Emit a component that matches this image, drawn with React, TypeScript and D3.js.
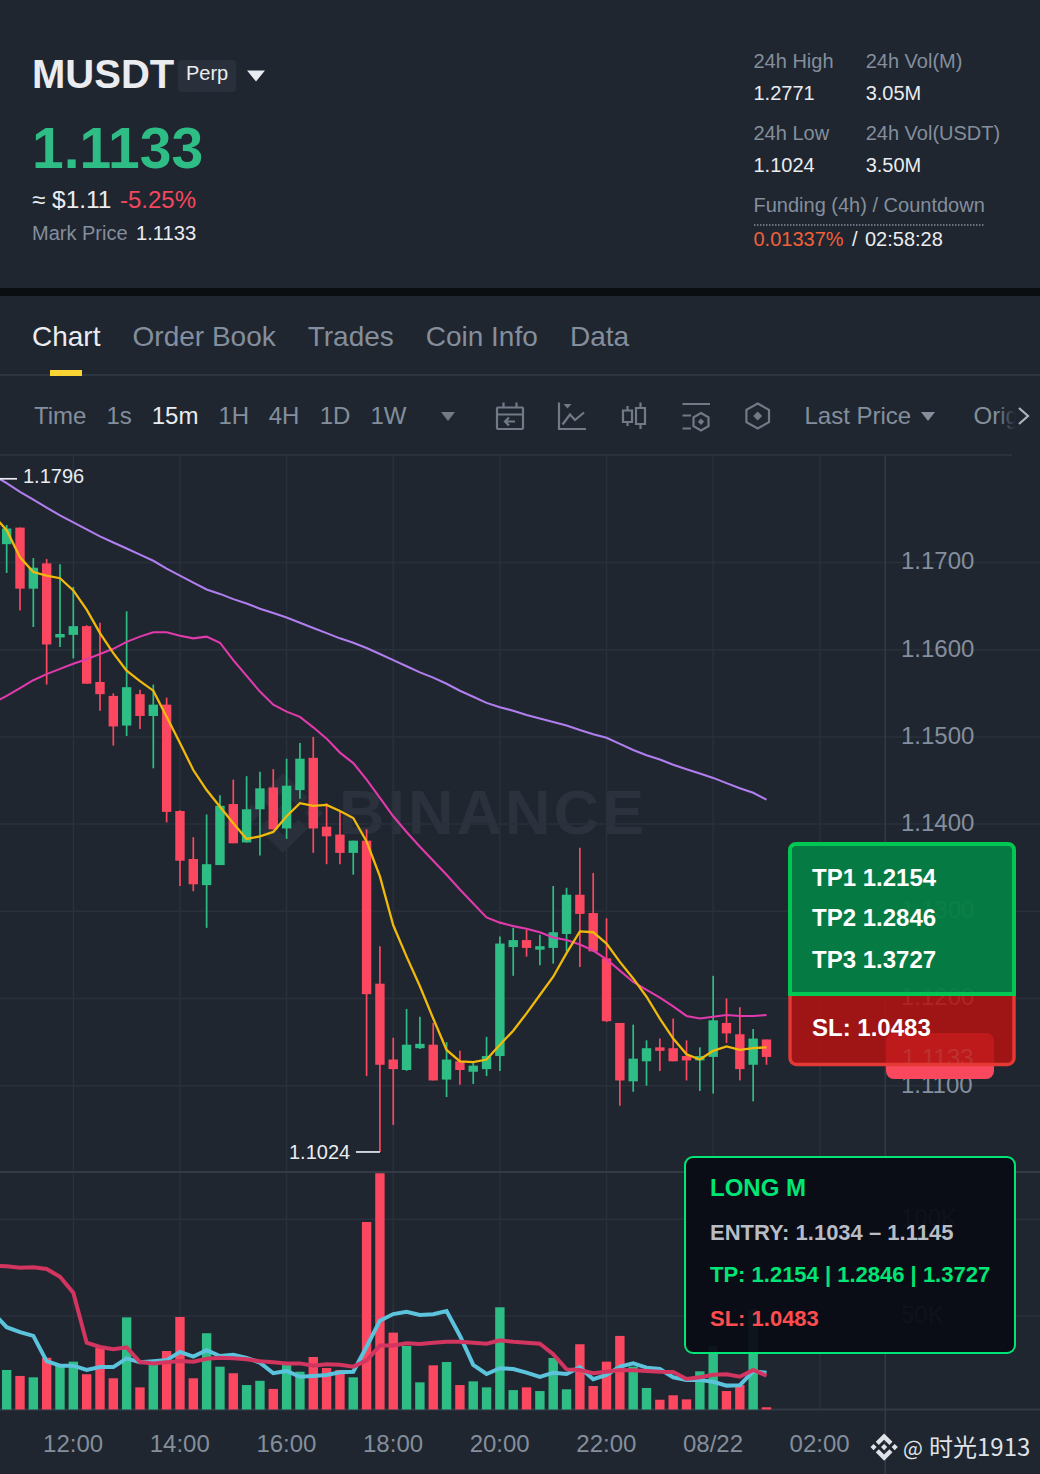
import * as d3 from "d3";
import { useEffect, useRef } from "react";

const opens = [1.1721,1.174,1.167,1.1699,1.1614,1.1617,1.1627,1.1563,1.1547,1.1513,1.1549,1.1524,1.1537,1.1415,1.136,1.133,1.1353,1.1423,1.1379,1.1417,1.1442,1.1395,1.1439,1.1476,1.1397,1.1388,1.1367,1.1381,1.1217,1.113,1.1118,1.1143,1.1147,1.1107,1.1128,1.1116,1.1119,1.1134,1.1259,1.1267,1.1256,1.1258,1.1274,1.1319,1.1298,1.1246,1.1172,1.1105,1.1128,1.1144,1.1143,1.1134,1.1129,1.1133,1.1172,1.1159,1.1124,1.1153];
const closes = [1.1739,1.167,1.1694,1.1606,1.1618,1.1627,1.1561,1.1549,1.1512,1.1557,1.1524,1.1537,1.1414,1.1358,1.1331,1.1354,1.1421,1.1378,1.1417,1.1441,1.1394,1.1444,1.1475,1.1395,1.1386,1.1367,1.1381,1.1205,1.1124,1.1119,1.1147,1.1148,1.1106,1.113,1.1118,1.1123,1.1134,1.1263,1.1267,1.1258,1.126,1.1276,1.1319,1.1297,1.1254,1.1174,1.1106,1.1131,1.1143,1.114,1.1128,1.1129,1.1134,1.1175,1.116,1.1119,1.1154,1.1133];
const highs = [1.1743,1.174,1.1705,1.1704,1.1698,1.1672,1.1628,1.1631,1.155,1.1644,1.1554,1.156,1.1545,1.1416,1.1385,1.1411,1.1433,1.1451,1.1455,1.146,1.1463,1.1475,1.1493,1.15,1.1424,1.1414,1.1381,1.1394,1.126,1.1155,1.1188,1.1179,1.1172,1.115,1.114,1.1126,1.1156,1.1271,1.1281,1.1279,1.1273,1.1329,1.1327,1.1373,1.1344,1.1292,1.1172,1.117,1.1152,1.1154,1.1177,1.1152,1.1144,1.1226,1.12,1.119,1.1165,1.1153];
const lows = [1.1688,1.1645,1.1626,1.156,1.1603,1.159,1.1561,1.153,1.149,1.1501,1.1509,1.1464,1.1402,1.1329,1.1323,1.1281,1.1353,1.1378,1.1379,1.1364,1.1394,1.1383,1.1429,1.1367,1.1354,1.1354,1.1342,1.1111,1.1024,1.1055,1.1117,1.1142,1.1106,1.1087,1.1101,1.1102,1.1111,1.1117,1.1226,1.1248,1.1238,1.124,1.1254,1.1236,1.1254,1.1173,1.1077,1.1093,1.11,1.1117,1.1128,1.1106,1.1094,1.1091,1.1149,1.1106,1.1082,1.1124];
const volumes = [22100,19000,18300,28400,25000,26400,19900,33600,17800,49300,13100,25500,31900,49500,17800,41100,23800,20400,14300,16500,12300,24700,21200,28800,23100,22100,18300,98600,123800,41400,34500,15700,24500,26200,14300,16200,13100,54500,11700,13100,11200,28300,12100,35400,13800,26400,39700,23800,12800,6700,9000,6900,21400,34600,11200,14300,53500,2800];

// moving averages start one candle before the first visible one
const ma7 = [1.1754,1.1737,1.1706,1.1689,1.1685,1.1682,1.1668,1.1646,1.1619,1.1596,1.1576,1.1564,1.1553,1.1523,1.1493,1.1462,1.1439,1.142,1.1401,1.1383,1.1386,1.1391,1.1409,1.1424,1.1421,1.1422,1.1415,1.1407,1.138,1.134,1.1284,1.1248,1.1214,1.1177,1.1141,1.1128,1.1127,1.113,1.1147,1.1163,1.1183,1.1204,1.1225,1.1252,1.1277,1.1276,1.1263,1.1242,1.1223,1.1202,1.1177,1.1154,1.1136,1.113,1.114,1.1145,1.1141,1.1143,1.1144];
const ma25 = [1.1539,1.1547,1.1556,1.1565,1.1572,1.1578,1.1584,1.1589,1.1595,1.1601,1.1609,1.1615,1.162,1.162,1.1616,1.1613,1.1615,1.1608,1.1588,1.157,1.1552,1.1537,1.1529,1.1523,1.1511,1.1498,1.1482,1.147,1.1451,1.143,1.1409,1.1391,1.1374,1.1358,1.1342,1.1325,1.1309,1.1293,1.1287,1.1283,1.128,1.1276,1.127,1.1267,1.1262,1.1255,1.1245,1.1232,1.1219,1.121,1.1201,1.1191,1.118,1.1177,1.1179,1.1181,1.118,1.118,1.1181];
const ma99 = [1.18,1.1791,1.1781,1.1772,1.1763,1.1754,1.1746,1.1738,1.173,1.1723,1.1716,1.1709,1.1702,1.1693,1.1685,1.1677,1.1669,1.1664,1.1658,1.1653,1.1647,1.1642,1.1637,1.1631,1.1625,1.1619,1.1613,1.1608,1.1602,1.1595,1.1588,1.1581,1.1574,1.1568,1.1561,1.1553,1.1546,1.1539,1.1534,1.153,1.1525,1.1521,1.1517,1.1513,1.1508,1.1503,1.1499,1.1492,1.1485,1.1479,1.1474,1.1468,1.1463,1.1458,1.1453,1.1447,1.1441,1.1436,1.1428];
const volMa5 = [51500,44200,41700,39700,26700,24300,24300,22100,23600,23600,28100,26100,26600,27200,31400,29000,32300,29300,30000,28300,25900,20400,21600,18600,19000,19500,20900,21200,34100,47600,51000,52200,50500,50900,52600,39800,24700,20000,23000,22600,20700,18500,20700,20000,23500,17300,19500,23800,25500,23300,22600,18300,16900,16900,16000,14000,14200,21400,20700];
const volMa10 = [76100,75700,75000,75200,74300,70300,62000,36200,34000,32800,33800,26200,25500,26100,26700,26400,27900,28400,28100,27600,26600,26100,25500,25500,24300,25000,24800,23800,26900,34800,34800,35900,35500,36200,36700,36700,36200,35700,37400,36700,36200,35700,30300,22400,22100,20400,21200,22100,21900,21600,21200,21000,17400,18300,19600,19900,18600,22100,19100];

const priceTicks = [1.17, 1.16, 1.15, 1.14, 1.13, 1.12, 1.11];
const volumeTicks = [100000, 50000];
const timeTickIndex = [5, 13, 21, 29, 37, 45, 53, 61];
const timeTickLabels = ["12:00", "14:00", "16:00", "18:00", "20:00", "22:00", "08/22", "02:00"];
const intervals = ["Time", "1s", "15m", "1H", "4H", "1D", "1W"];
const intervalX = [34, 106.5, 151.7, 218.5, 268.7, 319.7, 370.5];
const tabs = ["Chart", "Order Book", "Trades", "Coin Info", "Data"];
const tabX = [32, 132.6, 307.7, 425.7, 570];
const visibleHigh = 1.1796;

const BG = "#1f2630";
const GREEN = "#2ebd85";
const RED = "#fb4760";
const GRAY = "#848e9c";
const LIGHT = "#eaecef";
const GRID = "#2a303b";
const ICON = "#727a88";
const SANS = "'Liberation Sans', Arial, sans-serif";
const LOGO =
  "M38.73 53.2l24.59-24.58 24.6 24.6 14.3-14.31L63.32 0 24.43 38.9zM0 63.31l14.3-14.31 14.31 14.31-14.31 14.3zM38.73 73.41l24.59 24.59 24.6-24.6 14.31 14.29-38.9 38.91-38.91-38.88v-.03zM98.28 63.31l14.3-14.3 14.31 14.3-14.31 14.3zM77.83 63.3L63.32 48.78 52.59 59.51l-1.24 1.23-2.54 2.54 14.51 14.5 14.51-14.47z";

export default function App() {
  const svgRef = useRef<SVGSVGElement>(null);

  useEffect(() => {
    if (!svgRef.current) return;
    const svg = d3.select(svgRef.current);
    svg.selectAll("*").remove();
    svg.style("font-family", SANS);

    const text = (
      parent: any,
      x: number,
      y: number,
      s: string,
      size: number,
      fill: string,
      weight = "normal",
    ) =>
      parent
        .append("text")
        .attr("x", x)
        .attr("y", y)
        .attr("font-size", size)
        .attr("font-weight", weight)
        .attr("fill", fill)
        .text(s);

    svg.append("rect").attr("width", 1040).attr("height", 1474).attr("fill", BG);

    // Header
    text(svg, 32, 88, "MUSDT", 40, LIGHT, "bold");
    svg.append("rect").attr("x", 178).attr("y", 60).attr("width", 58).attr("height", 32).attr("rx", 4).attr("fill", "#2a303b");
    text(svg, 186, 80, "Perp", 20, LIGHT);
    svg.append("path").attr("d", "M247 70.5h18l-9 11z").attr("fill", LIGHT);
    text(svg, 32, 168, "1.1133", 57, GREEN, "bold");
    text(svg, 32, 208, "≈", 24, LIGHT);
    text(svg, 52, 208, "$1.11", 24.5, LIGHT);
    text(svg, 120, 208, "-5.25%", 24, "#f6465d");
    text(svg, 32, 240, "Mark Price", 20, GRAY);
    text(svg, 136, 240, "1.1133", 20.2, LIGHT);

    text(svg, 753.5, 68, "24h High", 20, GRAY);
    text(svg, 865.7, 68, "24h Vol(M)", 20, GRAY);
    text(svg, 753.5, 100, "1.2771", 20, LIGHT);
    text(svg, 865.7, 100, "3.05M", 20, LIGHT);
    text(svg, 753.5, 140, "24h Low", 20, GRAY);
    text(svg, 865.7, 140, "24h Vol(USDT)", 20, GRAY);
    text(svg, 753.5, 172, "1.1024", 20, LIGHT);
    text(svg, 865.7, 172, "3.50M", 20, LIGHT);
    text(svg, 753.5, 212, "Funding (4h) / Countdown", 20, GRAY);
    svg.append("line").attr("x1", 754).attr("x2", 985).attr("y1", 225).attr("y2", 225)
      .attr("stroke", GRAY).attr("stroke-width", 1.5).attr("stroke-dasharray", "1.5,1.5");
    text(svg, 753.5, 246, "0.01337%", 20, "#f0603a");
    text(svg, 852, 246, "/", 20, LIGHT);
    text(svg, 865, 246, "02:58:28", 20, LIGHT);

    svg.append("rect").attr("y", 288).attr("width", 1040).attr("height", 8).attr("fill", "#0b0e11");

    // Tabs
    tabs.forEach((t, i) => text(svg, tabX[i], 346, t, 28, i === 0 ? LIGHT : GRAY));
    svg.append("rect").attr("y", 374).attr("width", 1040).attr("height", 2).attr("fill", "#2f3540");
    svg.append("rect").attr("x", 50).attr("y", 370).attr("width", 32).attr("height", 6).attr("fill", "#fcd535");

    // Toolbar
    intervals.forEach((t, i) => text(svg, intervalX[i], 424, t, 24, t === "15m" ? LIGHT : GRAY));
    svg.append("path").attr("d", "M441 412h14l-7 9z").attr("fill", ICON);
    text(svg, 804.5, 424, "Last Price", 24, GRAY);
    svg.append("path").attr("d", "M921 412h14l-7 9z").attr("fill", GRAY);
    text(svg, 973.5, 424, "Orig", 24, GRAY);

    const defs = svg.append("defs");
    const fade = defs.append("linearGradient").attr("id", "orig-fade");
    fade.append("stop").attr("offset", "0%").attr("stop-color", BG).attr("stop-opacity", 0);
    fade.append("stop").attr("offset", "100%").attr("stop-color", BG).attr("stop-opacity", 1);
    svg.append("rect").attr("x", 996).attr("y", 398).attr("width", 20).attr("height", 36).attr("fill", "url(#orig-fade)");
    svg.append("rect").attr("x", 1016).attr("y", 398).attr("width", 24).attr("height", 36).attr("fill", BG);
    svg.append("path").attr("d", "M1019 408l9 8-9 8").attr("fill", "none").attr("stroke", "#aeb4bc").attr("stroke-width", 2.2);

    const icons = svg.append("g").attr("fill", "none").attr("stroke", ICON).attr("stroke-width", 2.2);
    // calendar
    icons.append("rect").attr("x", 497).attr("y", 407.5).attr("width", 26).attr("height", 21.5).attr("rx", 1);
    icons.append("path").attr("d", "M503.5 402.5v5M516.5 402.5v5M497 414.5h26M515 421.5h-10M509 417.5l-4 4 4 4");
    // indicator chart
    icons.append("path").attr("d", "M559 402.5V429h27M562.5 424.5l7.5-10 5 5.5 9-7.5");
    svg.append("path").attr("d", "M563.5 404h8l-4 4.5z").attr("fill", ICON);
    // candle style
    icons.append("path").attr("d", "M623 410.5h9v11.5h-9zM627.5 406v4.5M627.5 422v4M636 408h9v16h-9zM640.5 402.5v5.5M640.5 424v5");
    // settings list
    icons.append("path").attr("d", "M682.5 404h27.5M682.5 415.5h8.5M682.5 428.5h8.5M701 413l7.5 4.4v8.7l-7.5 4.4-7.5-4.4v-8.7z");
    svg.append("path").attr("d", "M701 418.5l3.2 3.2-3.2 3.2-3.2-3.2z").attr("fill", ICON);
    // depth
    icons.append("path").attr("d", "M757.7 403.5l11.3 6.3v12.4l-11.3 6.3-11.3-6.3v-12.4z");
    svg.append("path").attr("d", "M757.7 411.5l4.5 4.5-4.5 4.5-4.5-4.5z").attr("fill", ICON);

    svg.append("rect").attr("y", 454).attr("width", 1012).attr("height", 2).attr("fill", "#2b313c");

    // Scales
    const x = d3.scaleLinear().domain([0, 57]).range([6.67, 766.5]);
    const y = d3.scaleLinear().domain([1.17, 1.11]).range([562.5, 1085.7]);
    const yVol = d3.scaleLinear().domain([0, 100000]).range([1412.7, 1219.3]);
    const volBase = 1409.5;

    // Watermark
    svg.append("path").attr("d", LOGO).attr("fill", "#2a303b")
      .attr("transform", "translate(243,773) scale(0.632)");
    svg.append("text").attr("x", 339).attr("y", 834).attr("font-size", 63).attr("font-weight", "bold")
      .attr("letter-spacing", 3).attr("fill", "#2b323d").text("BINANCE");

    // Grid
    const grid = svg.append("g").attr("stroke", GRID).attr("stroke-width", 1.5);
    priceTicks.forEach((p) => grid.append("line").attr("x1", 0).attr("x2", 1040).attr("y1", y(p)).attr("y2", y(p)));
    volumeTicks.forEach((v) => grid.append("line").attr("x1", 0).attr("x2", 1040).attr("y1", yVol(v)).attr("y2", yVol(v)));
    timeTickIndex.forEach((t) => grid.append("line").attr("x1", x(t)).attr("x2", x(t)).attr("y1", 456).attr("y2", volBase));
    svg.append("rect").attr("y", 1171).attr("width", 1040).attr("height", 2).attr("fill", "#333945");
    svg.append("rect").attr("y", 1408.5).attr("width", 1040).attr("height", 2).attr("fill", "#333945");
    svg.append("rect").attr("x", 884.5).attr("y", 456).attr("width", 1.5).attr("height", 1018).attr("fill", "#333945");

    // Axes
    const axisText = (g: any) => {
      g.select(".domain").remove();
      g.selectAll("text").attr("font-size", 24).attr("font-family", SANS).attr("fill", GRAY);
    };
    svg.append("g").attr("transform", "translate(884,-1.3)")
      .call(d3.axisRight(y).tickValues(priceTicks).tickSize(0).tickPadding(17).tickFormat(d3.format(".4f") as any))
      .call(axisText);
    svg.append("g").attr("transform", "translate(884,-1.3)")
      .call(d3.axisRight(yVol).tickValues(volumeTicks).tickSize(0).tickPadding(17).tickFormat((d: any) => `${d / 1000}K`))
      .call(axisText);
    svg.append("g").attr("transform", `translate(-0.7,${volBase})`)
      .call(d3.axisBottom(x).tickValues(timeTickIndex).tickSize(0).tickPadding(25)
        .tickFormat((_: any, i: number) => timeTickLabels[i]))
      .call(axisText);

    // Volume bars
    const indices = d3.range(opens.length);
    const color = (i: number) => (closes[i] >= opens[i] ? GREEN : RED);
    const barWidth = 9.4;
    svg.append("g").selectAll("rect").data(indices).enter().append("rect")
      .attr("x", (i) => x(i) - barWidth / 2)
      .attr("y", (i) => yVol(volumes[i]))
      .attr("width", barWidth)
      .attr("height", (i) => Math.max(0, volBase - yVol(volumes[i])))
      .attr("fill", color);

    // Volume averages
    const clipVol = defs.append("clipPath").attr("id", "plot-clip");
    clipVol.append("rect").attr("x", 0).attr("y", 456).attr("width", 885).attr("height", 954);
    const plot = svg.append("g").attr("clip-path", "url(#plot-clip)");
    const volLine = d3.line<number>().x((_, i) => x(i - 1)).y((d) => yVol(d));
    plot.append("path").attr("d", volLine(volMa5)).attr("fill", "none").attr("stroke", "#5bc3db").attr("stroke-width", 4);
    plot.append("path").attr("d", volLine(volMa10)).attr("fill", "none").attr("stroke", "#d2355f").attr("stroke-width", 4);

    // Candles
    const candles = plot.append("g");
    candles.selectAll("line").data(indices).enter().append("line")
      .attr("x1", (i) => x(i)).attr("x2", (i) => x(i))
      .attr("y1", (i) => y(highs[i])).attr("y2", (i) => y(lows[i]))
      .attr("stroke", color).attr("stroke-width", 1.7);
    candles.selectAll("rect").data(indices).enter().append("rect")
      .attr("x", (i) => x(i) - barWidth / 2)
      .attr("y", (i) => y(Math.max(opens[i], closes[i])))
      .attr("width", barWidth)
      .attr("height", (i) => Math.max(1, Math.abs(y(opens[i]) - y(closes[i]))))
      .attr("fill", color);

    // Price averages
    const maLine = d3.line<number>().x((_, i) => x(i - 1)).y((d) => y(d));
    plot.append("path").attr("d", maLine(ma99)).attr("fill", "none").attr("stroke", "#b07eee").attr("stroke-width", 2.1);
    plot.append("path").attr("d", maLine(ma25)).attr("fill", "none").attr("stroke", "#e23aac").attr("stroke-width", 2.1);
    plot.append("path").attr("d", maLine(ma7)).attr("fill", "none").attr("stroke", "#f0b90b").attr("stroke-width", 2.3);

    // High and low markers
    const minIndex = d3.minIndex(lows);
    svg.append("line").attr("x1", 0).attr("x2", 17).attr("y1", y(visibleHigh)).attr("y2", y(visibleHigh))
      .attr("stroke", LIGHT).attr("stroke-width", 1.7);
    text(svg, 23, 483, d3.format(".4f")(visibleHigh), 20, LIGHT);
    svg.append("line").attr("x1", x(minIndex) - 24).attr("x2", x(minIndex)).attr("y1", y(lows[minIndex])).attr("y2", y(lows[minIndex]))
      .attr("stroke", LIGHT).attr("stroke-width", 1.7);
    text(svg, 289, 1159, d3.format(".4f")(lows[minIndex]), 20, LIGHT);

    // Last price tag
    svg.append("rect").attr("x", 886).attr("y", 1033).attr("width", 108).attr("height", 46).attr("rx", 8).attr("fill", "#f9475e");
    text(svg, 902, 1066, "1.1133", 24, LIGHT);

    // Target overlay: the two panels share the edge at y=994
    svg.append("path").attr("d", "M790 994V1058a6.5 6.5 0 0 0 6.5 6.5H1007.5a6.5 6.5 0 0 0 6.5 -6.5V994z")
      .attr("fill", "rgba(181,19,18,0.86)").attr("stroke", "#e53935").attr("stroke-width", 3.4);
    svg.append("path").attr("d", "M790 994V850a6 6 0 0 1 6 -6H1008a6 6 0 0 1 6 6V994z")
      .attr("fill", "rgba(5,126,69,0.95)").attr("stroke", "#00c853").attr("stroke-width", 4);
    text(svg, 812, 886, "TP1 1.2154", 24, "#ffffff", "bold");
    text(svg, 812, 926, "TP2 1.2846", 24, "#ffffff", "bold");
    text(svg, 812, 968, "TP3 1.3727", 24, "#ffffff", "bold");
    text(svg, 812, 1036, "SL: 1.0483", 24, "#ffffff", "bold");

    svg.append("rect").attr("x", 685).attr("y", 1157).attr("width", 330).attr("height", 196).attr("rx", 8)
      .attr("fill", "rgba(10,12,20,0.95)").attr("stroke", "#00e676").attr("stroke-width", 2);
    text(svg, 710, 1196, "LONG M", 24, "#00e676", "bold");
    text(svg, 710, 1240, "ENTRY: 1.1034 – 1.1145", 22, "#b8bcc4", "bold");
    text(svg, 710, 1282, "TP: 1.2154 | 1.2846 | 1.3727", 22, "#00e676", "bold");
    text(svg, 710, 1326, "SL: 1.0483", 22, "#ff4d4f", "bold");

    // Footer stamp
    svg.append("path").attr("d", LOGO).attr("fill", "#dfe2e6").attr("transform", "translate(870.5,1433.5) scale(0.215)");
    const stamp = "'Noto Sans CJK SC',sans-serif";
    text(svg, 903, 1456, "@", 21, "#dfe2e6").attr("font-family", stamp);
    text(svg, 929, 1456, "时光1913", 24, "#dfe2e6").attr("font-family", stamp);
  }, []);

  return (
    <>
      <style>{`body{margin:0;background:${BG}}`}</style>
      <svg ref={svgRef} width={1040} height={1474} style={{ display: "block" }} />
    </>
  );
}
